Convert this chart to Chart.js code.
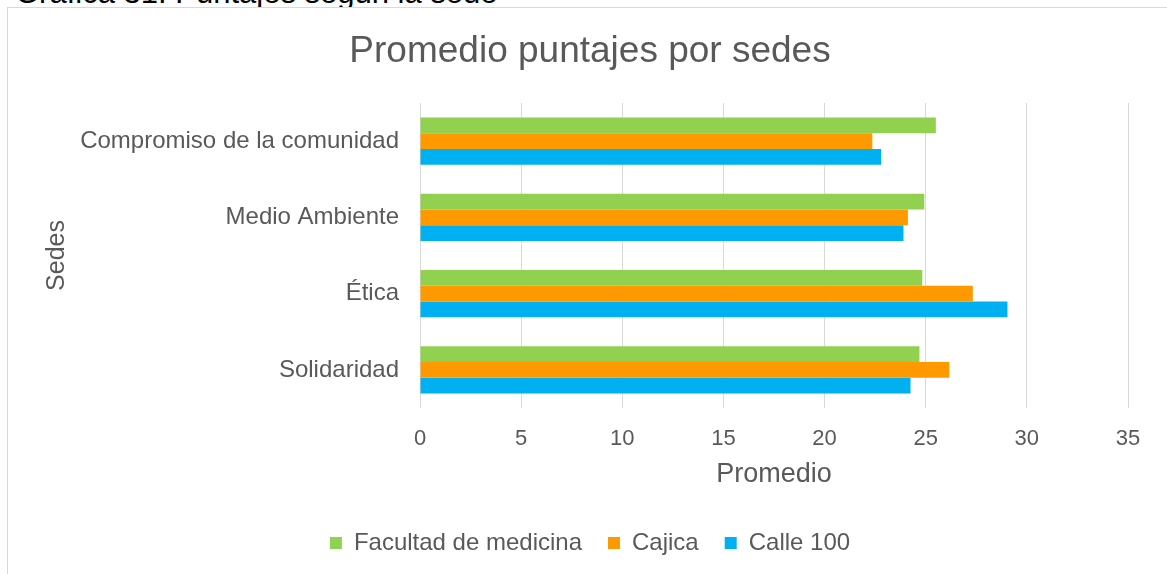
<!DOCTYPE html>
<html lang="es">
<head>
<meta charset="utf-8">
<title>Promedio puntajes por sedes</title>
<script src="https://cdn.jsdelivr.net/npm/chart.js@4/dist/chart.umd.min.js"></script>
<style>
  html, body { margin: 0; padding: 0; background: #ffffff; overflow: hidden; }
  body { width: 1167px; height: 574px; position: relative; }
  #caption {
    position: absolute; left: 15px; top: -23px;
    font: 31px "Liberation Sans", Arial, sans-serif; line-height: 1;
    color: #000000; white-space: nowrap;
  }
  #frame {
    position: absolute; left: 7px; top: 7px;
    width: 1164px; height: 600px;
    border: 1px solid #d9d9d9; background: #ffffff;
  }
</style>
</head>
<body>
<div id="caption">Gráfica 31. Puntajes según la sede</div>
<div id="frame"><canvas id="chart"></canvas></div>
<script>
// Categories (top to bottom) and average scores for each campus
const categories = ["Compromiso de la comunidad", "Medio Ambiente", "Ética", "Solidaridad"];
const facultadMedicina = [25.5, 24.93, 24.83, 24.69];
const cajica = [22.36, 24.12, 27.33, 26.17];
const calle100 = [22.8, 23.9, 29.04, 24.25];
const xTicks = [0, 5, 10, 15, 20, 25, 30, 35];

const FONT = '"Liberation Sans", Arial, sans-serif';
const GREY = '#595959';

new Chart(document.getElementById('chart'), {
  type: 'bar',
  data: {
    labels: categories,
    datasets: [
      { label: 'Facultad de medicina', data: facultadMedicina, backgroundColor: '#92d050' },
      { label: 'Cajica', data: cajica, backgroundColor: '#ff9900' },
      { label: 'Calle 100', data: calle100, backgroundColor: '#00b0f0' }
    ]
  },
  options: {
    indexAxis: 'y',
    responsive: true,
    maintainAspectRatio: false,
    animation: false,
    datasets: { bar: { categoryPercentage: 0.62, barPercentage: 1.0, borderWidth: 0 } },
    layout: { padding: { left: 0, right: 0, top: 0, bottom: 43 } },
    plugins: {
      tooltip: { enabled: false },
      title: {
        display: true,
        text: 'Promedio puntajes por sedes',
        color: GREY,
        font: { family: FONT, size: 37, weight: 'normal' },
        padding: { top: 22, bottom: 28.6 }
      },
      legend: {
        position: 'bottom',
        labels: {
          color: GREY,
          font: { family: FONT, size: 24 },
          boxWidth: 12, boxHeight: 12,
          padding: 26
        }
      }
    },
    scales: {
      x: {
        min: 0, max: 35,
        afterBuildTicks: (scale) => { scale.ticks = xTicks.map(v => ({ value: v })); },
        afterFit: (scale) => { scale.height = 97; },
        grid: { color: '#d9d9d9', lineWidth: 1, drawTicks: false },
        border: { display: false },
        ticks: { color: GREY, font: { family: FONT, size: 22 }, padding: 18 },
        title: {
          display: true, text: 'Promedio', color: GREY,
          font: { family: FONT, size: 27 },
          padding: { top: 0, bottom: 14 }
        }
      },
      y: {
        afterFit: (scale) => { scale.width = 412; },
        grid: { display: false, drawTicks: false },
        border: { display: false },
        ticks: { color: GREY, font: { family: FONT, size: 24 }, padding: 21 },
        title: {
          display: true, text: 'Sedes', color: GREY,
          font: { family: FONT, size: 25 },
          padding: { top: 34, bottom: 0 }
        }
      },
      // empty right-hand margin so the plot ends short of the frame edge
      rightMargin: {
        type: 'linear',
        axis: 'y',
        position: 'right',
        afterFit: (scale) => { scale.width = 44; },
        grid: { display: false, drawTicks: false },
        border: { display: false },
        ticks: { display: false }
      }
    }
  }
});
</script>
</body>
</html>
